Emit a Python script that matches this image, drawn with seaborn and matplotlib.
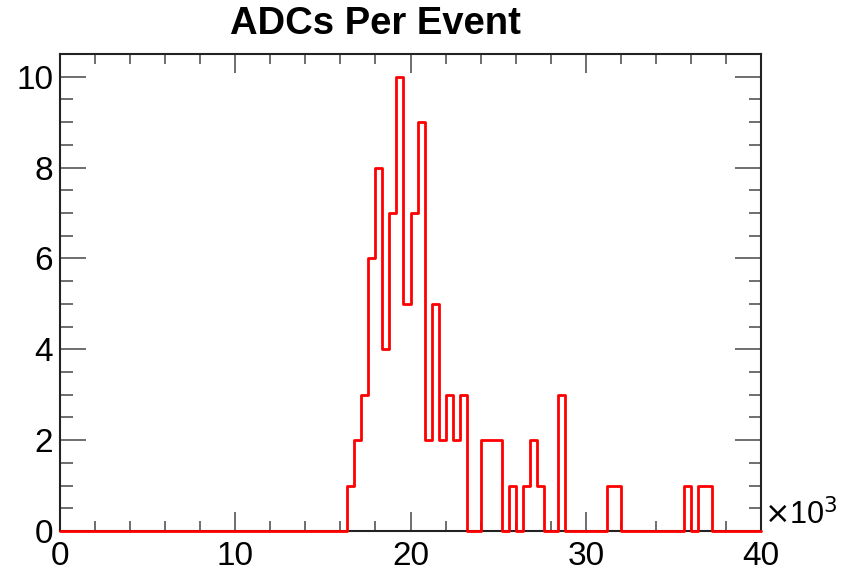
import numpy as np
import pandas as pd
import matplotlib
matplotlib.use("Agg")
import matplotlib.pyplot as plt
from matplotlib.ticker import MultipleLocator, FuncFormatter
import seaborn as sns

# ---- data (bin lower edge in ADC counts, entries) ----
bin_starts = [16400, 16800, 17200, 17600, 18000, 18400, 18800, 19200, 19600, 20000,
              20400, 20800, 21200, 21600, 22000, 22400, 22800, 24000, 24400, 24800,
              25600, 26400, 26800, 27200, 28400, 31200, 31600, 35600, 36400, 36800]
bin_counts = [1, 2, 3, 6, 8, 4, 7, 10, 5, 7,
              9, 2, 5, 2, 3, 2, 3, 2, 2, 2,
              1, 1, 2, 1, 3, 1, 1, 1, 1, 1]
bin_width = 400
x_min, x_max = 0, 40000
title = "ADCs Per Event"

sns.set_theme(style="ticks")
plt.rcParams['font.family'] = ['Liberation Sans', 'DejaVu Sans']
plt.rcParams['text.color'] = 'black'
plt.rcParams['xtick.labelcolor'] = 'black'
plt.rcParams['ytick.labelcolor'] = 'black'

df = pd.DataFrame({"adc": [s + bin_width / 2 for s in bin_starts], "n": bin_counts})

fig = plt.figure(figsize=(8.44, 5.73), dpi=100)
ax = fig.add_axes([60/844, 42/573, 701/844, (531-54)/573])

sns.histplot(data=df, x="adc", weights="n", binwidth=bin_width, binrange=(x_min, x_max),
             element="step", fill=False, color="red", linewidth=2.0, ax=ax)
for ln in ax.lines:
    ln.set_zorder(3)
    ln.set_clip_on(False)

ax.set_xlim(x_min, x_max)
ax.set_ylim(0, 10.5)
ax.set_xlabel("")
ax.set_ylabel("")

ax.xaxis.set_major_locator(MultipleLocator(10000))
ax.xaxis.set_minor_locator(MultipleLocator(2000))
ax.yaxis.set_major_locator(MultipleLocator(2))
ax.yaxis.set_minor_locator(MultipleLocator(0.5))
ax.xaxis.set_major_formatter(FuncFormatter(lambda v, p: f"{v/1000:g}"))

ax.tick_params(which="both", direction="in", top=True, right=True, color="#555555")
ax.tick_params(axis="x", which="major", length=14, width=1.2, labelsize=24, pad=7.5)
ax.tick_params(axis="x", which="minor", length=7, width=1.2)
ax.tick_params(axis="y", which="major", length=19, width=1.2, labelsize=24, pad=5)
ax.tick_params(axis="y", which="minor", length=9, width=1.2)
for sp in ax.spines.values():
    sp.set_visible(True)
    sp.set_linewidth(1.5)
    sp.set_color("#222222")

ax.text(1.004, 0.0, r"$\times$10$^{3}$", transform=ax.transAxes, ha="left", va="bottom",
        fontsize=22)

fig.text(375/844, 1 - 24/573, title, ha="center", va="center", fontsize=27.5,
         fontweight="bold")

fig.savefig("out.png", dpi=100, facecolor="white")
